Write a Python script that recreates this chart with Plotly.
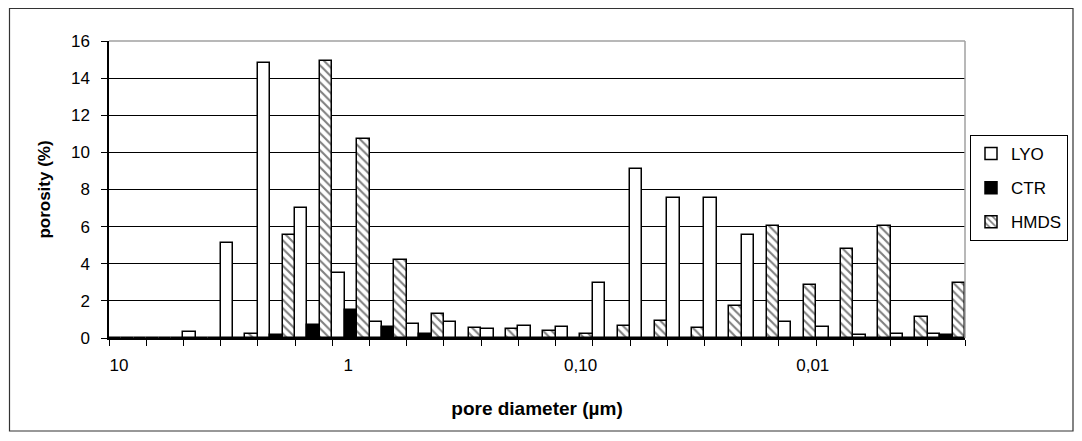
import plotly.graph_objects as go

# ---- data (23 size classes, 6 classes per decade, from 10 µm down) ----
class_index = list(range(23))
tick_labels = ["10", "1", "0,10", "0,01"]
tick_label_pos = [-0.23, 5.93, 12.17, 18.41]

lyo = [0, 0, 0.3, 5.1, 14.8, 7.0, 3.5, 0.85, 0.75, 0.85, 0.5, 0.65, 0.6,
       2.95, 9.1, 7.55, 7.55, 5.55, 0.85, 0.6, 0.15, 0.2, 0.2]
ctr = [0, 0, 0, 0, 0.15, 0.7, 1.5, 0.6, 0.2, 0, 0, 0, 0,
       0, 0, 0, 0, 0, 0, 0, 0, 0, 0.15]
hmds = [0, 0, 0, 0.2, 5.55, 14.9, 10.7, 4.2, 1.3, 0.55, 0.5, 0.4, 0.2,
        0.65, 0.9, 0.55, 1.7, 6.05, 2.85, 4.8, 6.05, 1.15, 2.95]

FONT = "Liberation Sans, Arial, sans-serif"

# page body has an 8px margin, so the figure is 16px smaller than the window
W, H = 1066, 425
L, R, T, B = 101, 109, 33, 95
PW, PH = W - L - R, H - T - B

fig = go.Figure()
fig.add_trace(go.Bar(name="LYO", x=class_index, y=lyo, legendgroup="a",
                     marker=dict(color="white", line=dict(color="black", width=1.5))))
fig.add_trace(go.Bar(name="CTR", x=class_index, y=ctr, legendgroup="b",
                     marker=dict(color="black", line=dict(color="black", width=1.5))))
fig.add_trace(go.Bar(name="HMDS", x=class_index, y=hmds, legendgroup="c",
                     marker=dict(color="white", line=dict(color="black", width=1.5),
                                 pattern=dict(shape="\\", fgcolor="black", bgcolor="white",
                                              size=6, solidity=0.35))))

fig.update_layout(
    width=W, height=H,
    margin=dict(l=L, r=R, t=T, b=B, autoexpand=False),
    paper_bgcolor="white", plot_bgcolor="white",
    barmode="group", bargap=0, bargroupgap=0,
    font=dict(family=FONT, size=17, color="black"),
    showlegend=True,
    legend=dict(x=(962 - L) / PW, xanchor="left", y=(330 - 127) / PH, yanchor="top",
                bgcolor="white", bordercolor="black", borderwidth=1,
                font=dict(family=FONT, size=17), traceorder="grouped",
                tracegroupgap=9),
    xaxis=dict(range=[-0.5, 22.5], showgrid=False, zeroline=False,
               showline=True, linecolor="black", linewidth=1.5,
               tickmode="array", tickvals=tick_label_pos, ticktext=tick_labels,
               ticks="outside", ticklen=11, tickcolor="rgba(0,0,0,0)",
               minor=dict(tick0=-0.5, dtick=1, ticks="outside", ticklen=6,
                          tickcolor="black", tickwidth=1, showgrid=False),
               tickfont=dict(family=FONT, size=17),
               title=dict(text="<b>pore diameter (µm)</b>", standoff=28,
                          font=dict(family=FONT, size=19))),
    yaxis=dict(range=[0, 16], dtick=2, showgrid=True, gridcolor="black",
               gridwidth=1, zeroline=False, showline=True, linecolor="black",
               linewidth=1.5, ticks="outside", ticklen=6, tickcolor="black",
               ticklabelstandoff=8, tickfont=dict(family=FONT, size=17),
               title=dict(text="<b>porosity (%)</b>", standoff=16,
                          font=dict(family=FONT, size=17))),
    shapes=[
        dict(type="line", xref="paper", yref="paper", x0=0, x1=1, y0=1, y1=1,
             line=dict(color="#a0a0a0", width=1.5), layer="above"),
        dict(type="line", xref="paper", yref="paper", x0=1, x1=1, y0=0, y1=1,
             line=dict(color="#a0a0a0", width=1.5), layer="above"),
        dict(type="rect", xref="paper", yref="paper",
             x0=(1.5 - L) / PW, x1=(1065 - L) / PW,
             y0=(PH + T - 423) / PH, y1=(PH + T - 0.5) / PH,
             line=dict(color="#333333", width=1.2), layer="below"),
    ],
)

fig.write_html("out.html")
